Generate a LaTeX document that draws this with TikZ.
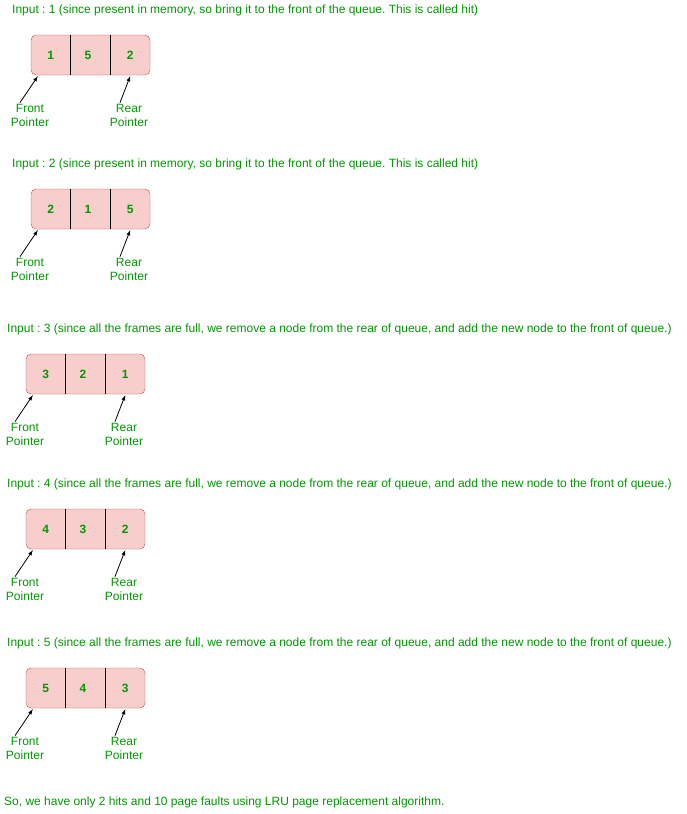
\documentclass[tikz,border=0pt]{standalone}
\usepackage{fontspec}
\setmainfont{Liberation Sans}
\usetikzlibrary{arrows}
\frenchspacing
\definecolor{qgreen}{HTML}{009900}
\definecolor{qfill}{HTML}{F8CECC}
\definecolor{qline}{HTML}{B85450}
\tikzstyle{caption}=[anchor=west, inner sep=0pt, text=qgreen, font=\fontsize{12}{14}\selectfont]
\tikzstyle{qbox}=[rectangle, rounded corners=5pt, draw=qline, fill=qfill, minimum width=119pt, minimum height=40pt]
\tikzstyle{cell}=[inner sep=0pt, minimum width=39.67pt, minimum height=40pt, text=qgreen, font=\fontsize{12}{14}\selectfont\bfseries]
\tikzstyle{ptrlabel}=[align=center, inner sep=1pt, text=qgreen, font=\fontsize{12}{14}\selectfont]
\tikzstyle{ptr}=[->, >=latex, line width=0.8pt, black]
\newcommand{\cell}{\node[cell]}

\begin{document}
\begin{tikzpicture}[x=1pt, y=-1pt]
                    \useasboundingbox (0,0) rectangle (686,814);
                    % hit on 1
                    \node[caption] (in1) at (12,10) {Input : 1 (since present in memory, so bring it to the front of the queue. This is called hit)};
                    \node[qbox] (q1) at (90.5,55) {};
                    \cell (c11) at (50.8,55) {1};
                    \cell (c12) at (88,55) {5};
                    \cell (c13) at (130.2,55) {2};
                    \draw (70.5,35) -- (70.5,75);
                    \draw (110.5,35) -- (110.5,75);
                    \node[ptrlabel] (f1) at (30,115) {Front\\Pointer};
                    \node[ptrlabel] (r1) at (129,115) {Rear\\Pointer};
                    \draw[ptr] ([xshift=-10pt]f1.north) -- ([xshift=-13pt,yshift=-1pt]c11.south);
                    \draw[ptr] ([xshift=-9pt]r1.north) -- ([yshift=-1pt]c13.south);

                    % hit on 2
                    \node[caption] (in2) at (12,164) {Input : 2 (since present in memory, so bring it to the front of the queue. This is called hit)};
                    \node[qbox] (q2) at (90.5,209) {};
                    \cell (c21) at (50.8,209) {2};
                    \cell (c22) at (88,209) {1};
                    \cell (c23) at (130.2,209) {5};
                    \draw (70.5,189) -- (70.5,229);
                    \draw (110.5,189) -- (110.5,229);
                    \node[ptrlabel] (f2) at (30,269) {Front\\Pointer};
                    \node[ptrlabel] (r2) at (129,269) {Rear\\Pointer};
                    \draw[ptr] ([xshift=-10pt]f2.north) -- ([xshift=-13pt,yshift=-1pt]c21.south);
                    \draw[ptr] ([xshift=-9pt]r2.north) -- ([yshift=-1pt]c23.south);

                    % fault on 3
                    \node[caption] (in3) at (7,329) {Input : 3 (since all the frames are full, we remove a node from the rear of queue, and add the new node to the front of queue.)};
                    \node[qbox] (q3) at (85.5,374) {};
                    \cell (c31) at (45.8,374) {3};
                    \cell (c32) at (83,374) {2};
                    \cell (c33) at (125.2,374) {1};
                    \draw (65.5,354) -- (65.5,394);
                    \draw (105.5,354) -- (105.5,394);
                    \node[ptrlabel] (f3) at (25,434) {Front\\Pointer};
                    \node[ptrlabel] (r3) at (124,434) {Rear\\Pointer};
                    \draw[ptr] ([xshift=-10pt]f3.north) -- ([xshift=-13pt,yshift=-1pt]c31.south);
                    \draw[ptr] ([xshift=-9pt]r3.north) -- ([yshift=-1pt]c33.south);

                    % fault on 4
                    \node[caption] (in4) at (7,484) {Input : 4 (since all the frames are full, we remove a node from the rear of queue, and add the new node to the front of queue.)};
                    \node[qbox] (q4) at (85.5,529) {};
                    \cell (c41) at (45.8,529) {4};
                    \cell (c42) at (83,529) {3};
                    \cell (c43) at (125.2,529) {2};
                    \draw (65.5,509) -- (65.5,549);
                    \draw (105.5,509) -- (105.5,549);
                    \node[ptrlabel] (f4) at (25,589) {Front\\Pointer};
                    \node[ptrlabel] (r4) at (124,589) {Rear\\Pointer};
                    \draw[ptr] ([xshift=-10pt]f4.north) -- ([xshift=-13pt,yshift=-1pt]c41.south);
                    \draw[ptr] ([xshift=-9pt]r4.north) -- ([yshift=-1pt]c43.south);

                    % fault on 5
                    \node[caption] (in5) at (7,643) {Input : 5 (since all the frames are full, we remove a node from the rear of queue, and add the new node to the front of queue.)};
                    \node[qbox] (q5) at (85.5,688) {};
                    \cell (c51) at (45.8,688) {5};
                    \cell (c52) at (83,688) {4};
                    \cell (c53) at (125.2,688) {3};
                    \draw (65.5,668) -- (65.5,708);
                    \draw (105.5,668) -- (105.5,708);
                    \node[ptrlabel] (f5) at (25,748) {Front\\Pointer};
                    \node[ptrlabel] (r5) at (124,748) {Rear\\Pointer};
                    \draw[ptr] ([xshift=-10pt]f5.north) -- ([xshift=-13pt,yshift=-1pt]c51.south);
                    \draw[ptr] ([xshift=-9pt]r5.north) -- ([yshift=-1pt]c53.south);

                    \node[caption] (sum) at (4,802) {So, we have only 2 hits and 10 page faults using LRU page replacement algorithm.};
                \end{tikzpicture}
\end{document}
